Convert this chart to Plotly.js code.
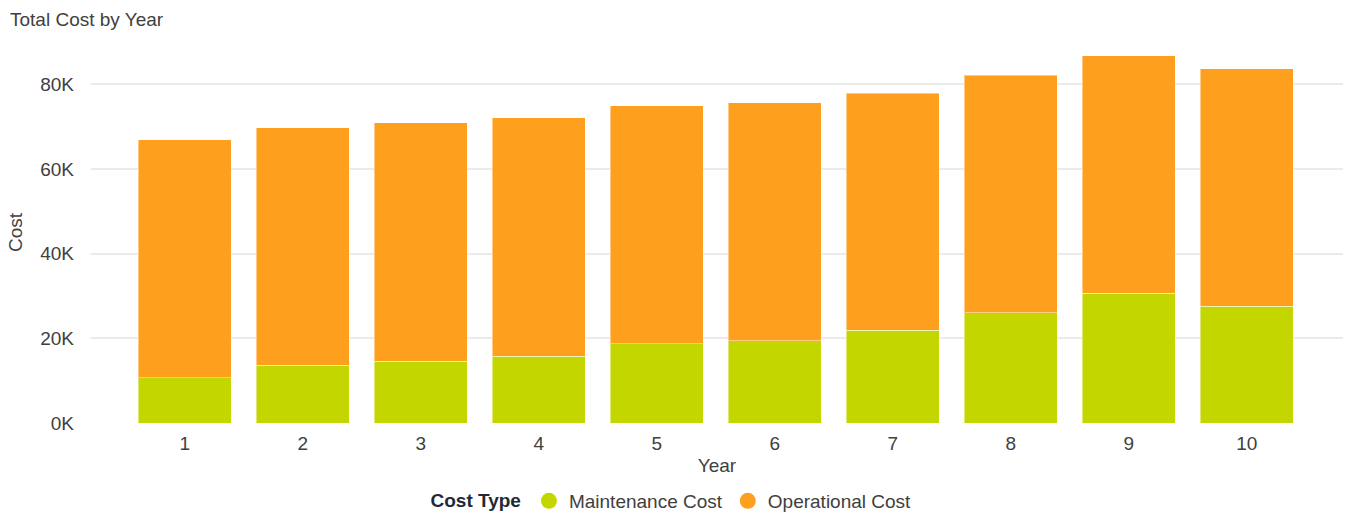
<!DOCTYPE html>
<html>
<head>
<meta charset="utf-8">
<script src="https://cdn.plot.ly/plotly-3.0.1.min.js"></script>
<style>
  html, body { margin: 0; padding: 0; background: #ffffff; }
  #chart { width: 1345px; height: 514px; }
</style>
</head>
<body>
<div id="chart"></div>
<script>
// ---- data ----
const years = [1, 2, 3, 4, 5, 6, 7, 8, 9, 10];
const maintenanceCost = [10700, 13600, 14600, 15800, 18750, 19400, 21900, 26000, 30700, 27600];
const operationalCost = [56200, 56200, 56300, 56300, 56250, 56300, 56000, 56100, 56100, 56100];
const seriesNames = ["Maintenance Cost", "Operational Cost"];
const yTickValues = [0, 20000, 40000, 60000, 80000];
const yTickLabels = ["0K", "20K", "40K", "60K", "80K"];

const greenColor = "#C4D600";
const orangeColor = "#FF9F1E";
const font = "Arial, 'Liberation Sans', sans-serif";
const textColor = "#404040";
const fs = 19;

const traces = [
  {
    type: "bar", x: years, y: maintenanceCost, name: seriesNames[0],
    marker: { color: greenColor, line: { color: "rgba(255,255,255,0.45)", width: 1 } },
    showlegend: false
  },
  {
    type: "bar", x: years, y: operationalCost, name: seriesNames[1],
    marker: { color: orangeColor, line: { color: "rgba(255,255,255,0.45)", width: 1 } },
    showlegend: false
  },
  // legend entries drawn as circles
  {
    type: "scatter", mode: "markers", x: [null], y: [null], name: seriesNames[0],
    marker: { color: greenColor, size: 16, symbol: "circle" }, hoverinfo: "skip"
  },
  {
    type: "scatter", mode: "markers", x: [null], y: [null], name: seriesNames[1],
    marker: { color: orangeColor, size: 16, symbol: "circle" }, hoverinfo: "skip"
  }
];

const layout = {
  width: 1345, height: 514,
  barmode: "stack",
  bargap: 0.21,
  paper_bgcolor: "#ffffff",
  plot_bgcolor: "#ffffff",
  font: { family: font, size: fs, color: textColor },
  margin: { l: 91, r: 2, t: 42, b: 91, autoexpand: false },
  title: {
    text: "Total Cost by Year",
    xref: "container", yref: "container",
    x: 10 / 1345, xanchor: "left",
    y: 1 - 19 / 514, yanchor: "middle",
    font: { family: font, size: fs, color: textColor }
  },
  xaxis: {
    type: "linear",
    range: [0.205, 10.815],
    tickmode: "array", tickvals: years,
    showgrid: false, zeroline: false, showline: false,
    ticks: "", ticklabelstandoff: 7,
    tickfont: { family: font, size: fs, color: textColor },
    title: { text: "Year", standoff: 5, font: { family: font, size: fs, color: textColor } },
    automargin: true,
    fixedrange: true
  },
  yaxis: {
    range: [0, 90000],
    tickmode: "array", tickvals: yTickValues, ticktext: yTickLabels,
    showgrid: true, gridcolor: "#ebebeb", gridwidth: 2,
    zeroline: false, showline: false,
    ticks: "", ticklabelstandoff: 16,
    tickfont: { family: font, size: fs, color: textColor },
    title: { text: "Cost", standoff: 12, font: { family: font, size: fs, color: textColor } },
    automargin: true,
    fixedrange: true
  },
  legend: {
    orientation: "h",
    traceorder: "normal",
    xref: "container", yref: "container",
    x: 0.5, xanchor: "center",
    y: 1 - 501 / 514, yanchor: "middle",
    itemwidth: 30,
    font: { family: font, size: fs, color: textColor },
    title: { text: "<b>Cost Type</b>", font: { family: font, size: fs, color: "#1f2a36" } },
    bgcolor: "rgba(0,0,0,0)"
  },
  showlegend: true
};

Plotly.newPlot("chart", traces, layout, { displayModeBar: false, staticPlot: true });
</script>
</body>
</html>
